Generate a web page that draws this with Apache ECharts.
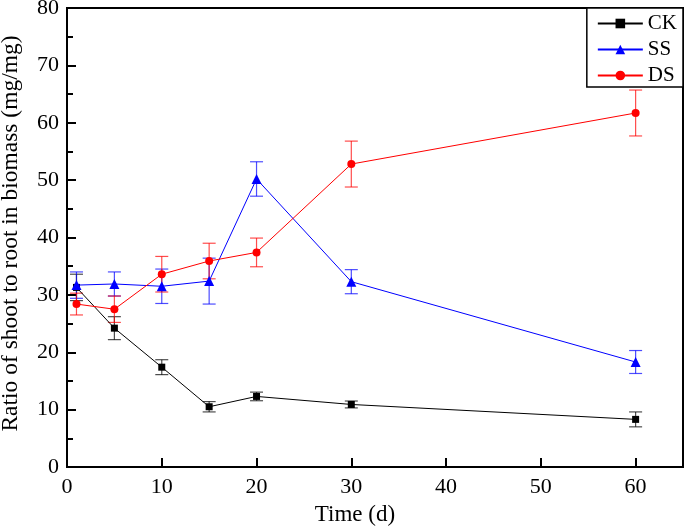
<!DOCTYPE html>
<html>
<head>
<meta charset="utf-8">
<script src="https://cdn.jsdelivr.net/npm/echarts@6/dist/echarts.min.js"></script>
<style>html,body{margin:0;padding:0;background:#fff}#c{width:685px;height:526px}</style>
</head>
<body>
<div id="c"></div>
<script>
const days = [1, 5, 10, 15, 20, 30, 60];
const ckMean = [31.3, 24.2, 17.4, 10.5, 12.3, 10.9, 8.3];
const ckErr  = [2.3, 2.0, 1.3, 0.9, 0.75, 0.6, 1.3];
const ssMean = [31.7, 31.9, 31.5, 32.4, 50.2, 32.3, 18.3];
const ssErr  = [2.3, 2.1, 3.0, 4.0, 3.0, 2.1, 2.0];
const dsMean = [28.4, 27.5, 33.6, 35.9, 37.4, 52.8, 61.7];
const dsErr  = [1.9, 2.3, 3.1, 3.1, 2.5, 4.0, 4.0];
const xTicks = [0, 10, 20, 30, 40, 50, 60];
const yTicks = [0, 10, 20, 30, 40, 50, 60, 70, 80];

const FONT = 'Liberation Serif';
const chart = echarts.init(document.getElementById('c'), null, {renderer: 'canvas'});

function pts(mean) { return days.map((d, i) => [d, mean[i]]); }
function errs(mean, err) { return days.map((d, i) => [d, mean[i] - err[i], mean[i] + err[i]]); }
function errSeries(name, mean, err, color) {
  return {
    type: 'custom', name: name + ' err', data: errs(mean, err), z: 3,
    renderItem: function (params, api) {
      const x = api.value(0);
      const lo = api.coord([x, api.value(1)]);
      const hi = api.coord([x, api.value(2)]);
      const w = 6.5;
      const st = {stroke: color, lineWidth: 1.2, opacity: 0.7};
      return {type: 'group', children: [
        {type: 'line', shape: {x1: lo[0], y1: lo[1], x2: hi[0], y2: hi[1]}, style: st},
        {type: 'line', shape: {x1: lo[0] - w, y1: lo[1], x2: lo[0] + w, y2: lo[1]}, style: st},
        {type: 'line', shape: {x1: hi[0] - w, y1: hi[1], x2: hi[0] + w, y2: hi[1]}, style: st}
      ]};
    },
    encode: {x: 0, y: [1, 2]}
  };
}
function lineSeries(name, mean, color, symbol, size, z) {
  return {
    type: 'line', name: name, data: pts(mean), symbol: symbol, symbolSize: size, z: z,
    lineStyle: {color: color, width: 1}, itemStyle: {color: color}, animation: false
  };
}

chart.setOption({
  animation: false,
  backgroundColor: '#fff',
  grid: {left: 67, right: 2, top: 8, bottom: 59, show: true, borderColor: '#000', borderWidth: 2,
    containLabel: false, outerBoundsMode: 'none'},
  legend: {
    data: ['CK', 'SS', 'DS'], orient: 'vertical', right: 2, top: 8,
    backgroundColor: '#fff', borderColor: '#000', borderWidth: 1.5,
    padding: [5, 6, 1, 10], itemWidth: 45, itemHeight: 12, itemGap: 5,
    textStyle: {fontFamily: FONT, fontSize: 21, color: '#000', lineHeight: 21}
  },
  xAxis: {
    type: 'value', min: 0, max: 65, interval: 10,
    name: 'Time (d)', nameLocation: 'middle', nameGap: 36,
    nameTextStyle: {fontFamily: FONT, fontSize: 23, color: '#000', padding: [0, 40, 0, 0]},
    axisLine: {lineStyle: {color: '#000', width: 2}},
    axisTick: {inside: true, length: 9, lineStyle: {color: '#000', width: 2}},
    axisLabel: {fontFamily: FONT, fontSize: 22, color: '#000', margin: 9, showMaxLabel: false,
      formatter: v => (xTicks.indexOf(v) >= 0 ? String(v) : '')},
    splitLine: {show: false}
  },
  yAxis: {
    type: 'value', min: 0, max: 80, interval: 10,
    name: 'Ratio of shoot to root in biomass (mg/mg)', nameLocation: 'middle', nameGap: 44,
    nameTextStyle: {fontFamily: FONT, fontSize: 23.5, color: '#000', padding: [0, 0, 0, 8]},
    axisLine: {lineStyle: {color: '#000', width: 2}},
    axisTick: {inside: true, length: 9, lineStyle: {color: '#000', width: 2}},
    minorTick: {show: true, splitNumber: 2, length: 6, lineStyle: {color: '#000', width: 2}},
    axisLabel: {fontFamily: FONT, fontSize: 22, color: '#000', margin: 8,
      formatter: v => (yTicks.indexOf(v) >= 0 ? String(v) : '')},
    splitLine: {show: false}
  },
  series: [
    errSeries('CK', ckMean, ckErr, '#000000'),
    lineSeries('CK', ckMean, '#000000', 'rect', 7, 4),
    errSeries('SS', ssMean, ssErr, '#0000ff'),
    lineSeries('SS', ssMean, '#0000ff', 'triangle', 10, 5),
    errSeries('DS', dsMean, dsErr, '#ff0000'),
    lineSeries('DS', dsMean, '#ff0000', 'circle', 8, 6)
  ]
});
</script>
</body>
</html>
